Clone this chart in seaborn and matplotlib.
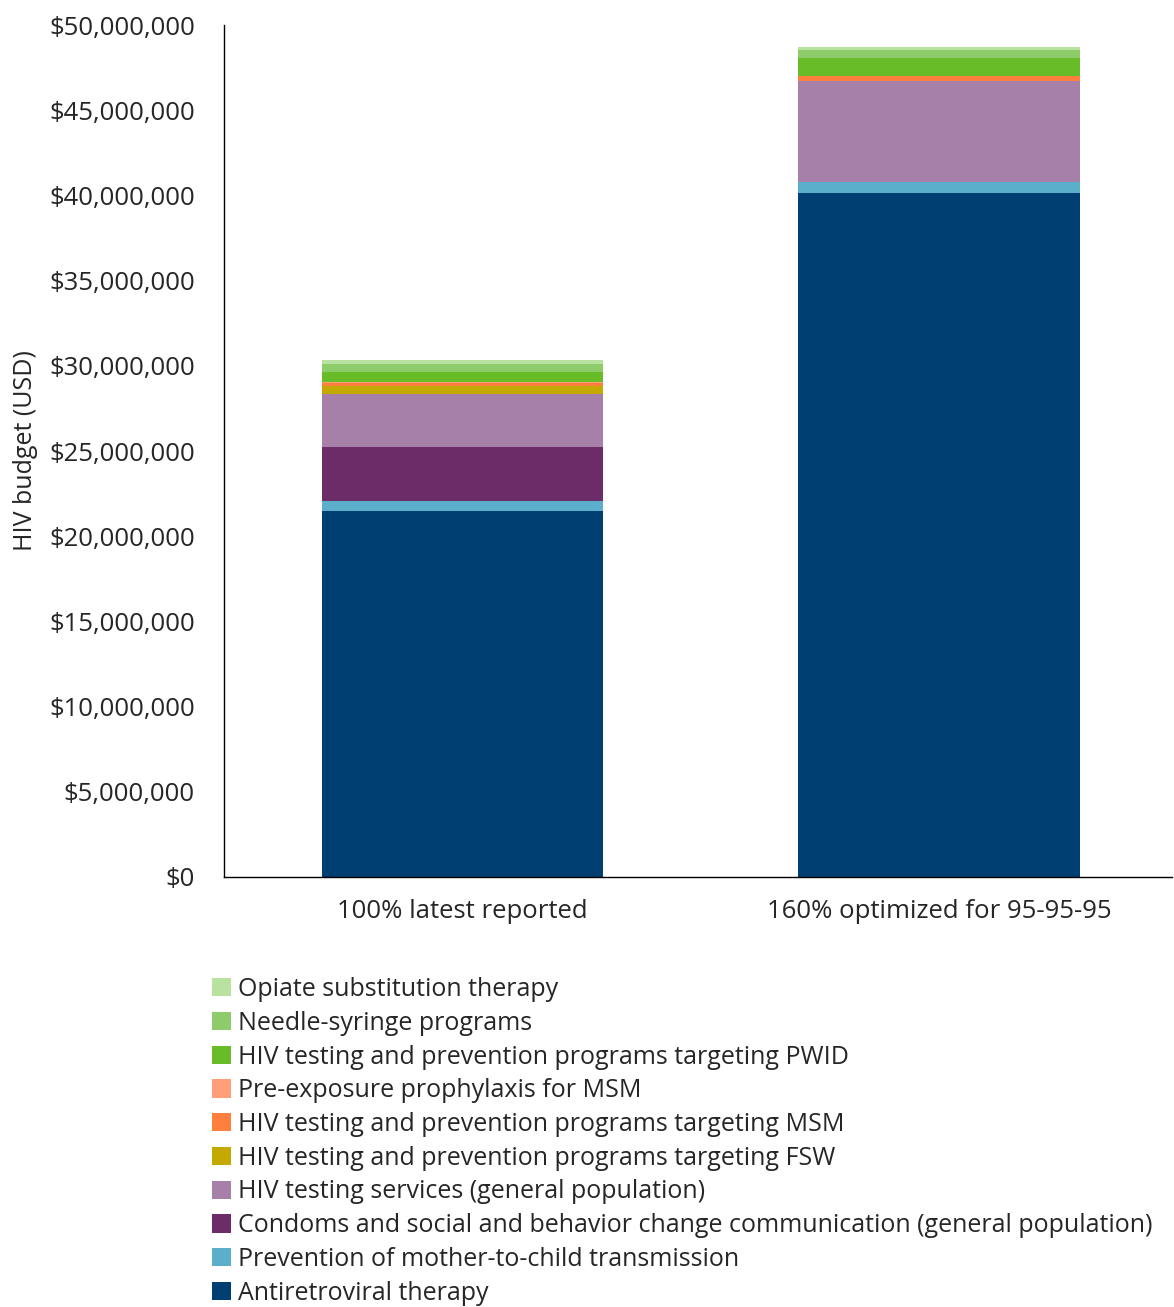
"""Stacked HIV budget allocation chart."""

import matplotlib.pyplot as plt
import numpy as np
import pandas as pd
import seaborn as sns
from matplotlib.patches import Patch
from matplotlib.ticker import FuncFormatter

scenarios = ["100% latest reported", "160% optimized for 95-95-95"]

programs = [
    "Antiretroviral therapy",
    "Prevention of mother-to-child transmission",
    "Condoms and social and behavior change communication (general population)",
    "HIV testing services (general population)",
    "HIV testing and prevention programs targeting FSW",
    "HIV testing and prevention programs targeting MSM",
    "Pre-exposure prophylaxis for MSM",
    "HIV testing and prevention programs targeting PWID",
    "Needle-syringe programs",
    "Opiate substitution therapy",
]

# USD (bottom segment first)
latest_reported = [21_480_000, 590_000, 3_150_000, 3_140_000, 470_000,
                   140_000, 80_000, 580_000, 490_000, 200_000]
optimized = [40_160_000, 630_000, 0, 5_900_000, 0,
             300_000, 20_000, 1_070_000, 450_000, 180_000]

colors = ["#003F72", "#5BAFCB", "#6B2C68", "#A680A8", "#C4A900",
          "#FF7F3F", "#FF9E78", "#68BC27", "#8ECB6A", "#B9E1A0"]

sns.set_theme(style="white")
plt.rcParams["font.family"] = ["Open Sans", "DejaVu Sans"]

fig = plt.figure(figsize=(11.74, 13.07), dpi=100)
ax = fig.add_axes([224 / 1174, 1 - 877 / 1307, 948 / 1174, 852 / 1307])

cum_latest = np.cumsum(latest_reported)
cum_opt = np.cumsum(optimized)

# draw cumulative totals from the top down so smaller stacks sit in front
for i in range(len(programs) - 1, -1, -1):
    frame = pd.DataFrame({"scenario": scenarios,
                          "total": [cum_latest[i], cum_opt[i]]})
    sns.barplot(data=frame, x="scenario", y="total", color=colors[i],
                width=0.59, saturation=1, ax=ax, linewidth=0)

ax.set_ylim(0, 50_000_000)
ax.set_yticks(np.arange(0, 50_000_001, 5_000_000))
ax.yaxis.set_major_formatter(FuncFormatter(lambda v, _: f"${v:,.0f}"))
ax.set_xlim(-0.5005, 1.489)
ax.set_xlabel("")
ax.set_ylabel("HIV budget (USD)", fontsize=18, labelpad=8)
ax.tick_params(axis="y", labelsize=18.5, length=0, pad=21)
ax.tick_params(axis="x", labelsize=18.5, length=0, pad=16)
for side in ("top", "right"):
    ax.spines[side].set_visible(False)
for side in ("left", "bottom"):
    ax.spines[side].set_color("black")
    ax.spines[side].set_linewidth(1.0)

handles = [Patch(facecolor=c, edgecolor="none") for c in colors][::-1]
fig.legend(handles, programs[::-1], loc="upper left",
           bbox_to_anchor=(202 / 1174, 1 - 967 / 1307), frameon=False,
           fontsize=18, handlelength=0.75, handleheight=0.75,
           handletextpad=0.3, labelspacing=0.35, borderaxespad=0)

fig.savefig("out.png", dpi=100)
